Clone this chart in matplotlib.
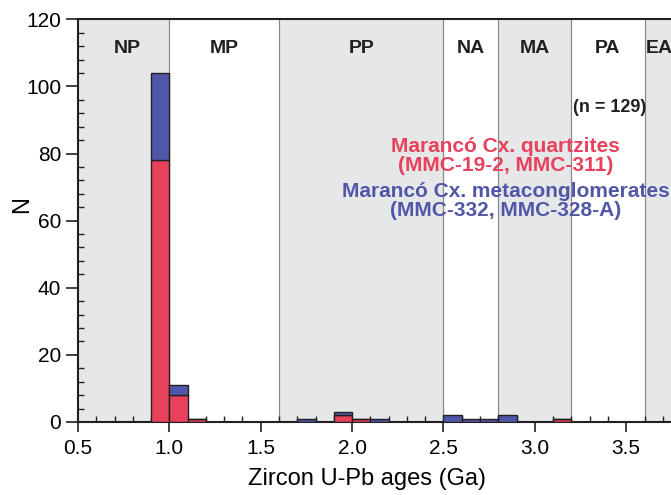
import numpy as np
import matplotlib
matplotlib.use('Agg')
import matplotlib.pyplot as plt
from matplotlib.ticker import MultipleLocator, FormatStrFormatter

# Histogram bins (left edge, Ga), width 0.1 Ga
bin_left = [0.9, 1.0, 1.1, 1.7, 1.9, 2.0, 2.1, 2.5, 2.6, 2.7, 2.8, 3.1]
quartzites = [78, 8, 1, 0, 2, 1, 0, 0, 0, 0, 0, 1]
metaconglomerates = [26, 3, 0, 1, 1, 0, 1, 2, 1, 1, 2, 0]
bin_width = 0.1

# Geological eras
era_names = ['NP', 'MP', 'PP', 'NA', 'MA', 'PA', 'EA']
era_edges = [0.5, 1.0, 1.6, 2.5, 2.8, 3.2, 3.6, 4.0]
era_label_x = [0.77, 1.3, 2.05, 2.65, 3.0, 3.4, 3.68]

red = '#E8415C'
blue = '#5057A8'
shade = '#E6E7E8'

plt.rcParams['font.family'] = ['Liberation Sans', 'DejaVu Sans']

fig = plt.figure(figsize=(6.71, 4.95), dpi=100)
ax = fig.add_axes([78 / 671, 0.1475, 1 - 78 / 671, 0.8135])
ax.set_xlim(0.5, 3.745)
ax.set_ylim(0, 120)

for i in range(len(era_names)):
    if i % 2 == 0:
        ax.axvspan(era_edges[i], era_edges[i + 1], color=shade, lw=0, zorder=0)
    if i > 0:
        ax.axvline(era_edges[i], color='#8a8a8a', lw=0.9, zorder=1)
    ax.text(era_label_x[i], 111.2, era_names[i], ha='center', va='center',
            fontsize=14, fontweight='bold', color='#231f20')

x = np.array(bin_left)
q = np.array(quartzites)
m = np.array(metaconglomerates)
ax.bar(x, q, width=bin_width, align='edge', color=red, edgecolor='#231f20', lw=1, zorder=3)
ax.bar(x, m, width=bin_width, bottom=q, align='edge', color=blue, edgecolor='#231f20', lw=1, zorder=3)

ax.text(3.41, 93.7, '(n = %d)' % (q.sum() + m.sum()), ha='center', va='center',
        fontsize=13, fontweight='bold', color='#231f20')
ax.text(2.84, 79.2, 'Marancó Cx. quartzites\n(MMC-19-2, MMC-311)', ha='center', va='center',
        fontsize=15, fontweight='bold', color=red, linespacing=1.0)
ax.text(2.84, 65.8, 'Marancó Cx. metaconglomerates\n(MMC-332, MMC-328-A)', ha='center', va='center',
        fontsize=15, fontweight='bold', color=blue, linespacing=1.0)

ax.xaxis.set_major_locator(MultipleLocator(0.5))
ax.xaxis.set_minor_locator(MultipleLocator(0.1))
ax.yaxis.set_major_locator(MultipleLocator(20))
ax.yaxis.set_minor_locator(MultipleLocator(4))
ax.xaxis.set_major_formatter(FormatStrFormatter('%.1f'))
ax.tick_params(which='major', direction='out', width=1.2, labelsize=15, color='#231f20')
ax.tick_params(axis='x', which='major', length=7, pad=5)
ax.tick_params(axis='y', which='major', length=9, pad=3)
ax.tick_params(which='minor', direction='in', length=4, width=1, color='#231f20')

for s in ['left', 'bottom', 'top']:
    ax.spines[s].set_linewidth(1.5)
    ax.spines[s].set_color('#231f20')
ax.spines['right'].set_visible(False)

ax.set_xlabel('Zircon U-Pb ages (Ga)', fontsize=17)
ax.set_ylabel('N', fontsize=17)
ax.xaxis.set_label_coords(0.488, -0.115)
ax.yaxis.set_label_coords(-0.076, 0.541)

fig.savefig('out.png', dpi=100)
